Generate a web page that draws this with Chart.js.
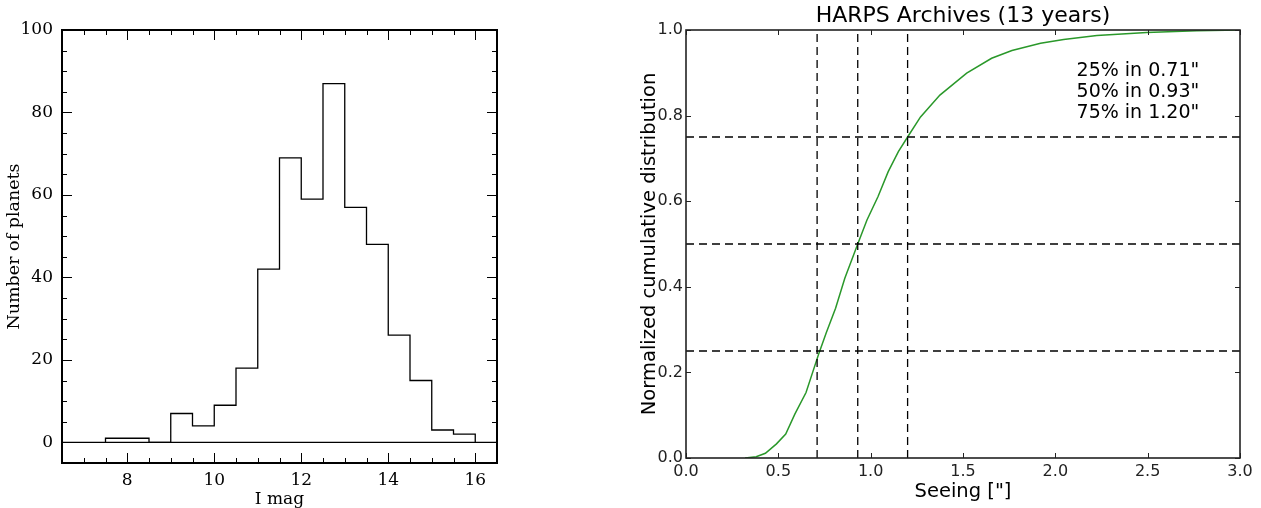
<!DOCTYPE html>
<html>
<head>
<meta charset="utf-8">
<script src="https://cdn.jsdelivr.net/npm/chart.js@4.4.1/dist/chart.umd.min.js"></script>
<style>
  html, body { margin: 0; padding: 0; background: #fff; }
  #wrap { position: relative; width: 1261px; height: 508px; overflow: hidden; }
  #magChart { position: absolute; left: 0; top: 0; }
  #seeingChart { position: absolute; left: 620px; top: 0; }
</style>
</head>
<body>
<div id="wrap">
  <canvas id="magChart" width="620" height="508"></canvas>
  <canvas id="seeingChart" width="641" height="508"></canvas>
</div>
<script>
// Left panel - I mag histogram (left edge of each 0.5 mag bin)
const magBinStarts = [7.5, 8, 8.5, 9, 9.5, 10, 10.5, 11, 11.5, 12, 12.5, 13, 13.5, 14, 14.5, 15, 15.5];
const planetCounts = [1, 1, 0, 7, 4, 9, 18, 42, 69, 59, 87, 57, 48, 26, 15, 3, 2];
const magBinWidth = 0.5;
const magTicks = [8, 10, 12, 14, 16];
const countTicks = [0, 20, 40, 60, 80, 100];

// Right panel - HARPS seeing, cumulative distribution
const seeingValues = [0.32, 0.38, 0.43, 0.49, 0.54, 0.59, 0.65, 0.72, 0.76, 0.81, 0.86, 0.93, 0.98, 1.04, 1.095, 1.15, 1.2, 1.27, 1.375, 1.52, 1.655, 1.765, 1.92, 2.045, 2.225, 2.495, 2.765, 3.0];
const cumulativeValues = [0, 0.003, 0.011, 0.033, 0.056, 0.103, 0.153, 0.245, 0.293, 0.35, 0.42, 0.5, 0.556, 0.611, 0.669, 0.716, 0.75, 0.797, 0.848, 0.899, 0.934, 0.952, 0.969, 0.978, 0.987, 0.994, 0.998, 1.0];
const quantileLevels = [0.25, 0.5, 0.75];
const quantileSeeing = [0.71, 0.93, 1.2];
const seeingTicks = [0, 0.5, 1, 1.5, 2, 2.5, 3];
const fractionTicks = [0, 0.2, 0.4, 0.6, 0.8, 1];

const serif = "'DejaVu Serif', serif";
const sans = "'DejaVu Sans', sans-serif";

// inward ticks on all four sides plus the box around the plot
const frameTicks = {
  id: "frameTicks",
  afterDraw(chart, args, opts) {
    const { ctx, chartArea: a, scales } = chart;
    const xs = scales.x;
    const ys = scales.y;
    ctx.save();
    ctx.strokeStyle = opts.color;
    ctx.lineWidth = opts.tickWidth;
    const drawX = (vals, len) => {
      vals.forEach((v) => {
        const px = Math.round(xs.getPixelForValue(v)) + 0.5;
        ctx.beginPath();
        ctx.moveTo(px, a.bottom);
        ctx.lineTo(px, a.bottom - len);
        ctx.moveTo(px, a.top);
        ctx.lineTo(px, a.top + len);
        ctx.stroke();
      });
    };
    const drawY = (vals, len) => {
      vals.forEach((v) => {
        const py = Math.round(ys.getPixelForValue(v)) + 0.5;
        ctx.beginPath();
        ctx.moveTo(a.left, py);
        ctx.lineTo(a.left + len, py);
        ctx.moveTo(a.right, py);
        ctx.lineTo(a.right - len, py);
        ctx.stroke();
      });
    };
    drawX(opts.xMinor, opts.minorLen);
    drawY(opts.yMinor, opts.minorLen);
    drawX(opts.xMajor, opts.majorLen);
    drawY(opts.yMajor, opts.majorLen);
    ctx.strokeStyle = opts.frameColor;
    ctx.lineWidth = opts.frameWidth;
    ctx.strokeRect(a.left, a.top, a.right - a.left, a.bottom - a.top);
    ctx.restore();
  },
};

// text block in the upper right of the seeing panel
const noteText = {
  id: "noteText",
  afterDraw(chart, args, opts) {
    const { ctx, scales } = chart;
    const x0 = scales.x.getPixelForValue(opts.x);
    const y0 = scales.y.getPixelForValue(opts.y);
    ctx.save();
    ctx.font = opts.font;
    ctx.fillStyle = "#000";
    ctx.textAlign = "left";
    ctx.textBaseline = "middle";
    opts.lines.forEach((line, i) => ctx.fillText(line, x0, y0 + i * opts.lineHeight));
    ctx.restore();
  },
};

function minorSteps(from, to, step) {
  const out = [];
  for (let v = from; v <= to + 1e-9; v += step) out.push(+v.toFixed(3));
  return out;
}

// ---------- left chart ----------
const histPoints = magBinStarts.map((x, i) => ({ x: x, y: planetCounts[i] }));
histPoints.unshift({ x: magBinStarts[0], y: 0 });
histPoints.push({ x: magBinStarts[magBinStarts.length - 1] + magBinWidth, y: 0 });

new Chart(document.getElementById("magChart"), {
  type: "line",
  data: {
    datasets: [
      {
        data: histPoints,
        borderColor: "#000",
        borderWidth: 1.3,
        stepped: "before",
        pointRadius: 0,
        fill: false,
      },
      {
        data: [{ x: 6.5, y: 0 }, { x: 16.5, y: 0 }],
        borderColor: "#000",
        borderWidth: 1.3,
        pointRadius: 0,
        fill: false,
      },
    ],
  },
  options: {
    responsive: false,
    animation: false,
    layout: { padding: { top: 30, right: 123, left: 0, bottom: 0 } },
    plugins: {
      legend: { display: false },
      tooltip: { enabled: false },
      frameTicks: {
        xMajor: magTicks,
        xMinor: minorSteps(7, 16, 0.5),
        yMajor: countTicks,
        yMinor: minorSteps(0, 95, 5),
        majorLen: 10,
        minorLen: 5,
        color: "#000",
        tickWidth: 1,
        frameColor: "#000",
        frameWidth: 2,
      },
    },
    scales: {
      x: {
        type: "linear",
        min: 6.5,
        max: 16.5,
        grid: { display: false, drawTicks: false },
        border: { display: false },
        afterBuildTicks: (s) => { s.ticks = magTicks.map((v) => ({ value: v })); },
        afterFit: (s) => { s.height = 45; },
        ticks: { autoSkip: false, maxRotation: 0, padding: 7, color: "#000", font: { family: serif, size: 17 } },
        title: { display: true, text: "I mag", color: "#000", font: { family: serif, size: 17, lineHeight: 1 }, padding: { top: 0, bottom: 0 } },
      },
      y: {
        type: "linear",
        min: -5,
        max: 100,
        grid: { display: false, drawTicks: false },
        border: { display: false },
        afterBuildTicks: (s) => { s.ticks = countTicks.map((v) => ({ value: v })); },
        afterFit: (s) => { s.width = 62; },
        ticks: { autoSkip: false, padding: 9, color: "#000", font: { family: serif, size: 17 } },
        title: { display: true, text: "Number of planets", color: "#000", font: { family: serif, size: 17.5, lineHeight: 1 }, padding: { top: 6, bottom: 0 } },
      },
    },
  },
  plugins: [frameTicks],
});

// ---------- right chart ----------
const dashStyle = { borderColor: "#000", borderWidth: 1.3, borderDash: [8, 5], pointRadius: 0, fill: false };
const verticalLines = quantileSeeing.map((s) => Object.assign({ data: [{ x: s, y: 0 }, { x: s, y: 1 }] }, dashStyle));
const horizontalLines = quantileLevels.map((q) => Object.assign({ data: [{ x: 0, y: q }, { x: 3, y: q }] }, dashStyle));

new Chart(document.getElementById("seeingChart"), {
  type: "line",
  data: {
    datasets: [
      ...verticalLines,
      ...horizontalLines,
      {
        data: seeingValues.map((x, i) => ({ x: x, y: cumulativeValues[i] })),
        borderColor: "#2a982a",
        borderWidth: 1.5,
        pointRadius: 0,
        tension: 0,
        fill: false,
      },
    ],
  },
  options: {
    responsive: false,
    animation: false,
    layout: { padding: { top: 0, right: 21, left: 0, bottom: 0 } },
    plugins: {
      legend: { display: false },
      tooltip: { enabled: false },
      title: {
        display: true,
        fullSize: false,
        text: "HARPS Archives (13 years)",
        color: "#000",
        font: { family: sans, size: 22, weight: "normal", lineHeight: 1.2 },
        padding: { top: 3.5, bottom: 0.1 },
      },
      frameTicks: {
        xMajor: seeingTicks,
        xMinor: [],
        yMajor: fractionTicks,
        yMinor: [],
        majorLen: 5,
        minorLen: 0,
        color: "#222",
        tickWidth: 1,
        frameColor: "#222",
        frameWidth: 1.6,
      },
      noteText: {
        lines: quantileLevels.map((q, i) => Math.round(q * 100) + "% in " + quantileSeeing[i].toFixed(2) + '"'),
        x: 2.115,
        y: 0.905,
        lineHeight: 21,
        font: "19px " + sans,
      },
    },
    scales: {
      x: {
        type: "linear",
        min: 0,
        max: 3,
        grid: { display: false, drawTicks: false },
        border: { display: false },
        afterBuildTicks: (s) => { s.ticks = seeingTicks.map((v) => ({ value: v })); },
        afterFit: (s) => { s.height = 50; },
        ticks: { autoSkip: false, maxRotation: 0, padding: 4, color: "#222", font: { family: sans, size: 16 }, callback: (v) => Number(v).toFixed(1) },
        title: { display: true, text: 'Seeing ["]', color: "#000", font: { family: sans, size: 19.5, lineHeight: 1.2 }, padding: { top: 0, bottom: 4 } },
      },
      y: {
        type: "linear",
        min: 0,
        max: 1,
        grid: { display: false, drawTicks: false },
        border: { display: false },
        afterBuildTicks: (s) => { s.ticks = fractionTicks.map((v) => ({ value: v })); },
        afterFit: (s) => { s.width = 66; },
        ticks: { autoSkip: false, padding: 3, color: "#222", font: { family: sans, size: 16 }, callback: (v) => Number(v).toFixed(1) },
        title: { display: true, text: "Normalized cumulative distribution", color: "#000", font: { family: sans, size: 19.5, lineHeight: 1.2 }, padding: { top: 18, bottom: 0 } },
      },
    },
  },
  plugins: [frameTicks, noteText],
});
</script>
</body>
</html>
